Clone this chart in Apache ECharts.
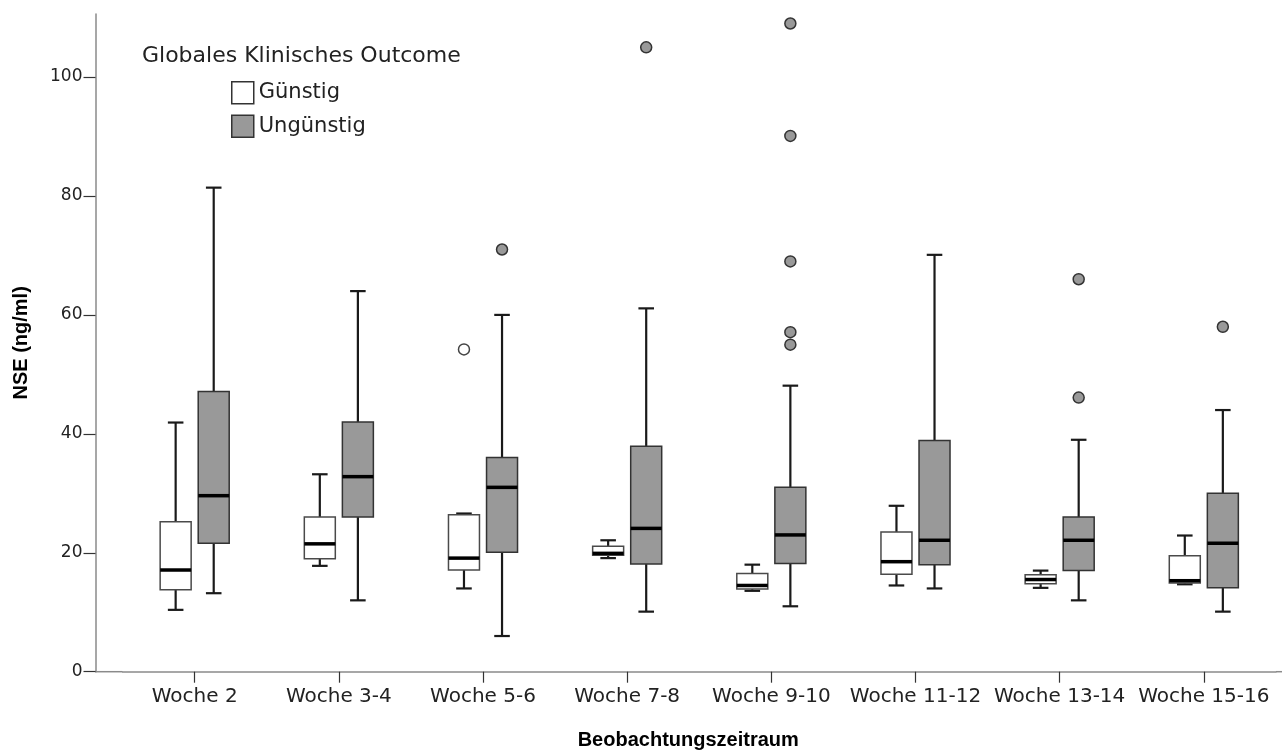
<!DOCTYPE html>
<html>
<head>
<meta charset="utf-8">
<script src="https://cdn.jsdelivr.net/npm/echarts@6/dist/echarts.min.js"></script>
<style>
  html, body { margin: 0; padding: 0; background: #ffffff; }
  #chart { width: 1282px; height: 751px; }
</style>
</head>
<body>
<div id="chart"></div>
<script>
// Observation periods on the x axis
const categories = ['Woche 2', 'Woche 3-4', 'Woche 5-6', 'Woche 7-8', 'Woche 9-10', 'Woche 11-12', 'Woche 13-14', 'Woche 15-16'];

// Five-number summaries per period: [min, Q1, median, Q3, max] in ng/ml
const guenstigStats = [
  [10.4, 13.8, 17.1, 25.2, 41.9],
  [17.8, 19.0, 21.5, 26.0, 33.2],
  [14.0, 17.1, 19.1, 26.4, 26.6],
  [19.1, 19.6, 19.9, 21.1, 22.1],
  [13.6, 13.9, 14.5, 16.5, 18.0],
  [14.5, 16.4, 18.5, 23.5, 27.9],
  [14.1, 14.8, 15.5, 16.3, 17.0],
  [14.7, 14.9, 15.3, 19.5, 22.9]
];
const unguenstigStats = [
  [13.2, 21.6, 29.6, 47.1, 81.4],
  [12.0, 26.0, 32.8, 42.0, 64.0],
  [6.0, 20.1, 31.0, 36.0, 60.0],
  [10.1, 18.1, 24.1, 37.9, 61.1],
  [11.0, 18.2, 23.0, 31.0, 48.1],
  [14.0, 18.0, 22.1, 38.9, 70.1],
  [12.0, 17.0, 22.1, 26.0, 39.0],
  [10.1, 14.1, 21.6, 30.0, 44.0]
];

// Outliers: [period index, value]
const guenstigOutliers = [[2, 54.2]];
const unguenstigOutliers = [
  [2, 71.0],
  [3, 105.0],
  [4, 109.0], [4, 90.1], [4, 69.0], [4, 57.1], [4, 55.0],
  [6, 66.0], [6, 46.1],
  [7, 58.0]
];

// Value axis
const yMin = 0;
const yMax = 110.6;
const yTickValues = [0, 20, 40, 60, 80, 100];

const seriesNames = ['Günstig', 'Ungünstig'];
const legendTitle = 'Globales Klinisches Outcome';
const xAxisTitle = 'Beobachtungszeitraum';
const yAxisTitle = 'NSE (ng/ml)';

// Box geometry relative to the category band width
const BOX_RATIO = 0.215;
const CAP_RATIO = 0.108;
const SHIFT_RATIO = 0.132;

const styles = [
  { fill: '#ffffff', box: '#4a4a4a', boxWidth: 1.5, whisker: '#1a1a1a', dot: '#ffffff', dotBorder: '#444444' },
  { fill: '#999999', box: '#333333', boxWidth: 1.5, whisker: '#1a1a1a', dot: '#999999', dotBorder: '#333333' }
];

function toRows(stats) {
  return stats.map((s, i) => [i].concat(s));
}

function makeBoxRenderer(sign, st) {
  return function (params, api) {
    const cat = api.value(0);
    const band = api.size([1, 0])[0];
    const boxW = band * BOX_RATIO;
    const capHalf = band * CAP_RATIO / 2;
    const cx = api.coord([cat, 0])[0] + sign * band * SHIFT_RATIO;
    const py = v => api.coord([cat, v])[1];
    const yMinP = py(api.value(1));
    const yQ1 = py(api.value(2));
    const yMed = py(api.value(3));
    const yQ3 = py(api.value(4));
    const yMaxP = py(api.value(5));
    const wStyle = { stroke: st.whisker, lineWidth: 2.2 };
    return {
      type: 'group',
      children: [
        { type: 'line', shape: { x1: cx, y1: yQ3, x2: cx, y2: yMaxP }, style: wStyle },
        { type: 'line', shape: { x1: cx, y1: yQ1, x2: cx, y2: yMinP }, style: wStyle },
        { type: 'line', shape: { x1: cx - capHalf, y1: yMaxP, x2: cx + capHalf, y2: yMaxP }, style: wStyle },
        { type: 'line', shape: { x1: cx - capHalf, y1: yMinP, x2: cx + capHalf, y2: yMinP }, style: wStyle },
        {
          type: 'rect',
          shape: { x: cx - boxW / 2, y: yQ3, width: boxW, height: yQ1 - yQ3 },
          style: { fill: st.fill, stroke: st.box, lineWidth: st.boxWidth }
        },
        {
          type: 'line',
          shape: { x1: cx - boxW / 2, y1: yMed, x2: cx + boxW / 2, y2: yMed },
          style: { stroke: '#000000', lineWidth: 3.5 }
        }
      ]
    };
  };
}

const gridLeft = 122.6;
const gridWidth = 1153.3;
const gridTop = 14;
const gridBottom = 79.3;
const axisY = 751 - gridBottom;

const chart = echarts.init(document.getElementById('chart'), null, { renderer: 'canvas' });

const textColor = '#222222';
const font = 'DejaVu Sans';

chart.setOption({
  animation: false,
  backgroundColor: '#ffffff',
  title: {
    text: legendTitle,
    left: 137,
    top: 40,
    textStyle: { fontFamily: font, fontSize: 22, fontWeight: 'normal', color: textColor }
  },
  legend: {
    data: [
      { name: seriesNames[0], icon: 'rect', itemStyle: { color: styles[0].fill, borderColor: '#333333', borderWidth: 1.5 } },
      { name: seriesNames[1], icon: 'rect', itemStyle: { color: styles[1].fill, borderColor: '#333333', borderWidth: 1.5 } }
    ],
    orient: 'vertical',
    left: 231,
    top: 81,
    padding: 0,
    itemWidth: 22,
    itemHeight: 22,
    itemGap: 10,
    selectedMode: false,
    textStyle: { fontFamily: font, fontSize: 21, color: textColor }
  },
  grid: { left: gridLeft, width: gridWidth, top: gridTop, bottom: gridBottom, outerBoundsMode: 'none', containLabel: false },
  xAxis: {
    type: 'category',
    data: categories,
    boundaryGap: true,
    axisLine: { show: true, lineStyle: { color: '#8a8a8a', width: 1.5 } },
    axisTick: { show: true, alignWithLabel: true, length: 11, lineStyle: { color: '#333333', width: 1.2 } },
    axisLabel: { interval: 0, margin: 15, fontFamily: font, fontSize: 20, color: textColor },
    splitLine: { show: false },
    name: xAxisTitle,
    nameLocation: 'middle',
    nameGap: 59,
    nameTextStyle: { fontFamily: 'Liberation Sans', fontWeight: 'bold', fontSize: 20, color: '#000000', padding: [0, 22, 0, 0] }
  },
  yAxis: {
    type: 'value',
    min: yMin,
    max: yMax,
    offset: gridLeft - 95.5,
    axisLine: { show: true, lineStyle: { color: '#8a8a8a', width: 1.5 } },
    axisTick: { show: true, length: 12, customValues: yTickValues, lineStyle: { color: '#333333', width: 1.2 } },
    axisLabel: { margin: 13, customValues: yTickValues, fontFamily: font, fontSize: 17, color: textColor },
    splitLine: { show: false },
    name: yAxisTitle,
    nameLocation: 'middle',
    nameRotate: 90,
    nameGap: 64,
    nameTextStyle: { fontFamily: 'Liberation Sans', fontWeight: 'bold', fontSize: 20, color: '#000000' }
  },
  graphic: [
    { type: 'line', shape: { x1: 95, y1: axisY, x2: gridLeft, y2: axisY }, style: { stroke: '#8a8a8a', lineWidth: 1.5 }, silent: true },
    { type: 'line', shape: { x1: gridLeft + gridWidth, y1: axisY, x2: 1282, y2: axisY }, style: { stroke: '#8a8a8a', lineWidth: 1.5 }, silent: true }
  ],
  series: [
    {
      name: seriesNames[0],
      type: 'custom',
      renderItem: makeBoxRenderer(-1, styles[0]),
      itemStyle: { color: styles[0].fill, borderColor: '#333333' },
      encode: { x: 0, y: [1, 2, 3, 4, 5] },
      data: toRows(guenstigStats),
      z: 2
    },
    {
      name: seriesNames[1],
      type: 'custom',
      renderItem: makeBoxRenderer(1, styles[1]),
      itemStyle: { color: styles[1].fill, borderColor: '#333333' },
      encode: { x: 0, y: [1, 2, 3, 4, 5] },
      data: toRows(unguenstigStats),
      z: 2
    },
    {
      name: seriesNames[0],
      type: 'scatter',
      symbol: 'circle',
      symbolSize: 11,
      symbolOffset: [-gridWidth / categories.length * SHIFT_RATIO, 0],
      itemStyle: { color: styles[0].dot, borderColor: styles[0].dotBorder, borderWidth: 1.5, opacity: 1 },
      data: guenstigOutliers,
      z: 3
    },
    {
      name: seriesNames[1],
      type: 'scatter',
      symbol: 'circle',
      symbolSize: 11,
      symbolOffset: [gridWidth / categories.length * SHIFT_RATIO, 0],
      itemStyle: { color: styles[1].dot, borderColor: styles[1].dotBorder, borderWidth: 1.5, opacity: 1 },
      data: unguenstigOutliers,
      z: 3
    }
  ]
});
</script>
</body>
</html>
